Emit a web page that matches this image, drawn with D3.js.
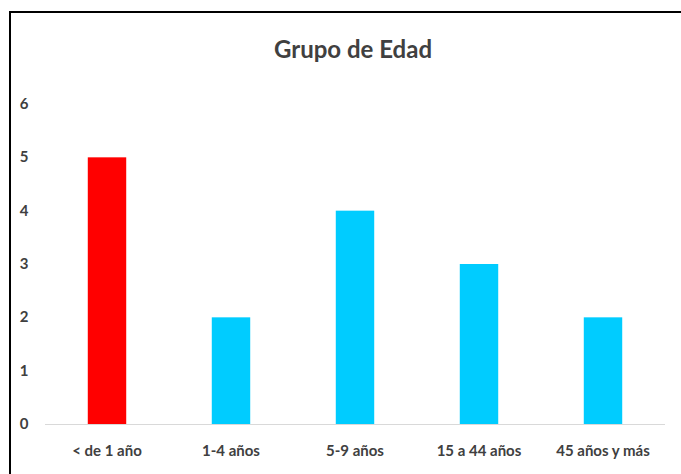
<!DOCTYPE html>
<html>
<head>
<meta charset="utf-8">
<script src="https://cdn.jsdelivr.net/npm/d3@7/dist/d3.min.js"></script>
<style>
body { margin: 0; background: #fff; }
text { font-family: Lato, "Open Sans", sans-serif; font-weight: bold; fill: #404040; }
</style>
</head>
<body>
<svg width="681" height="474"></svg>
<script>
var categories = ["< de 1 año", "1-4 años", "5-9 años", "15 a 44 años", "45 años y más"];
var values = [5, 2, 4, 3, 2];
var colors = ["#ff0000", "#00ccff", "#00ccff", "#00ccff", "#00ccff"];
var yTicks = [0, 1, 2, 3, 4, 5, 6];

var svg = d3.select("svg");

// outer frame (only top and left visible)
svg.append("path")
    .attr("d", "M10,474 V12 H681")
    .attr("fill", "none")
    .attr("stroke", "#000")
    .attr("stroke-width", 2);

var plotLeft = 45, plotRight = 665, plotTop = 104, plotBottom = 424;

var x = d3.scaleBand().domain(categories).range([plotLeft, plotRight]).paddingInner(0.69).paddingOuter(0.345);
var y = d3.scaleLinear().domain([0, 6]).range([plotBottom, plotTop]);

svg.append("text")
    .attr("x", 353)
    .attr("y", 58)
    .attr("text-anchor", "middle")
    .style("font-size", "24px")
    .text("Grupo de Edad");

svg.selectAll(".bar")
    .data(values)
    .enter().append("rect")
    .attr("class", "bar")
    .attr("x", function(d, i) { return x(categories[i]); })
    .attr("y", function(d) { return y(d); })
    .attr("width", x.bandwidth())
    .attr("height", function(d) { return plotBottom - y(d); })
    .attr("fill", function(d, i) { return colors[i]; });

svg.append("line")
    .attr("x1", plotLeft).attr("x2", plotRight)
    .attr("y1", plotBottom + 0.5).attr("y2", plotBottom + 0.5)
    .attr("stroke", "#d9d9d9");

svg.selectAll(".ytick")
    .data(yTicks)
    .enter().append("text")
    .attr("class", "ytick")
    .attr("x", 24)
    .attr("y", function(d) { return y(d) + 5; })
    .attr("text-anchor", "middle")
    .style("font-size", "15px")
    .text(function(d) { return d; });

svg.selectAll(".xlab")
    .data(categories)
    .enter().append("text")
    .attr("class", "xlab")
    .attr("x", function(d) { return x(d) + x.bandwidth() / 2; })
    .attr("y", 456)
    .attr("text-anchor", "middle")
    .style("font-size", "15px")
    .text(function(d) { return d; });
</script>
</body>
</html>
